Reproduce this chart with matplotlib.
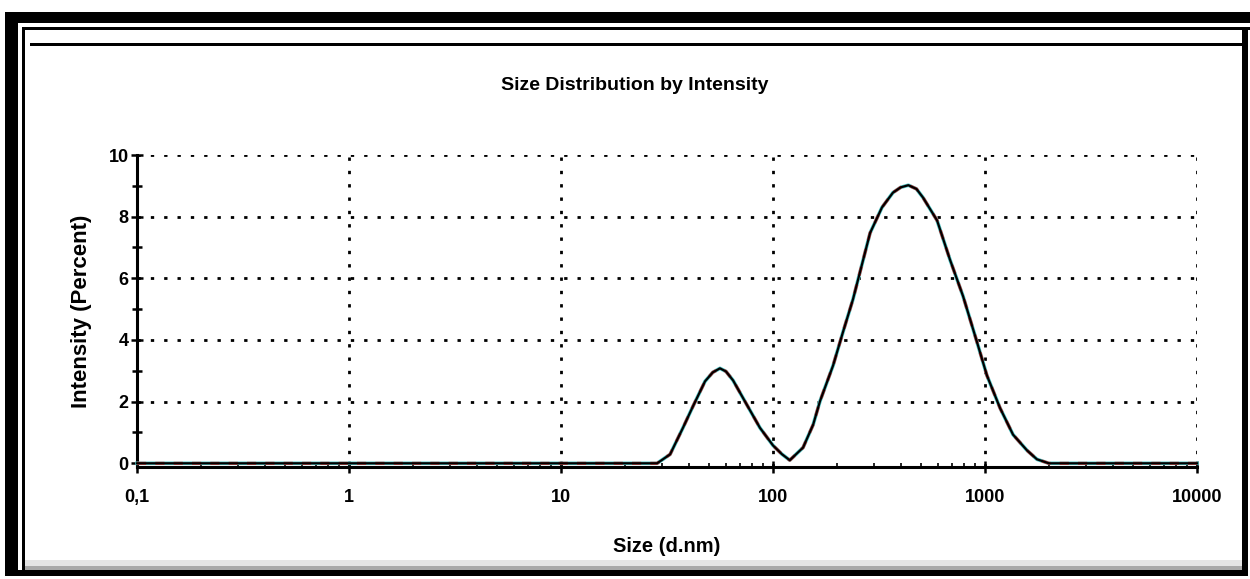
import matplotlib
matplotlib.use("Agg")
import matplotlib.pyplot as plt
from matplotlib.patches import Rectangle
from matplotlib.ticker import FixedLocator, FixedFormatter, LogLocator, NullFormatter
import numpy as np

plt.rcParams['font.family'] = ['Liberation Sans Narrow', 'Liberation Sans', 'DejaVu Sans']

# ---- data ----
size_nm = [0.1, 0.4, 1.0, 10.0, 28.4, 32.7, 37.6, 42.0, 47.8, 52.0, 56.2, 60.0, 64.8,
           75.4, 86.8, 100.0, 110.0, 120.0, 138.6, 154.6, 166.7, 192.0, 213.9, 238.4,
           257.0, 287.0, 326.6, 368.0, 400.0, 435.0, 475.0, 510.0, 594.0, 684.0,
           788.0, 916.0, 1021.0, 1178.0, 1356.0, 1578.0, 1758.0, 2000.0, 5000.0, 10000.0]
intensity = [0.0, 0.0, 0.0, 0.0, 0.0, 0.29, 1.15, 1.86, 2.66, 2.95, 3.08, 2.98, 2.69,
             1.89, 1.15, 0.58, 0.30, 0.10, 0.51, 1.25, 2.02, 3.17, 4.26, 5.32,
             6.19, 7.47, 8.30, 8.78, 8.95, 9.02, 8.90, 8.62, 7.88, 6.60,
             5.42, 3.94, 2.85, 1.79, 0.93, 0.42, 0.13, 0.0, 0.0, 0.0]

x_tick_vals = [0.1, 1, 10, 100, 1000, 10000]
x_tick_labels = ["0,1", "1", "10", "100", "1000", "10000"]
y_tick_vals = [0, 2, 4, 6, 8, 10]
y_tick_labels = ["0", "2", "4", "6", "8", "10"]

title = "Size Distribution by Intensity"
xlabel = "Size (d.nm)"
ylabel = "Intensity (Percent)"

W, H = 1250, 579
fig = plt.figure(figsize=(W / 100, H / 100), dpi=100)
fig.patch.set_facecolor("white")


def px_rect(x0, y0, x1, y1, color="black", z=5):
    fig.add_artist(Rectangle((x0 / W, 1 - y1 / H), (x1 - x0) / W, (y1 - y0) / H,
                             transform=fig.transFigure, facecolor=color,
                             edgecolor="none", zorder=z))


# frame decorations
px_rect(5, 12, 1250, 23)        # top thick bar
px_rect(5, 12, 18, 576)         # left thick bar
px_rect(22, 27, 25, 576)        # left thin line
px_rect(22, 27, 1250, 30)       # top thin line
px_rect(30, 43, 1245, 45.5)     # inner header line
px_rect(1242, 27, 1248, 576)    # right bar
px_rect(25, 560, 1242, 566, color="#e4e4e4")
px_rect(25, 566, 1242, 570, color="#a8a8a8")
px_rect(5, 570, 1248, 576)      # bottom bar

# axes
left, right = 137, 1197
top, bottom = 155, 467
ax = fig.add_axes([left / W, 1 - bottom / H, (right - left) / W, (bottom - top) / H])
ax.set_xscale("log")
ax.set_xlim(0.1, 10000)
ax.set_ylim(-0.12, 10)

ax.plot(size_nm, intensity, color="#4fc3c3", lw=2.6, zorder=3, clip_on=False)
ax.plot(size_nm, intensity, color="#e03a3a", lw=2.2, ls=(0, (3, 3)), zorder=4, clip_on=False)
ax.plot(size_nm, intensity, color="black", lw=1.6, zorder=5, clip_on=False)

for s in ["top", "right"]:
    ax.spines[s].set_visible(False)
for s in ["left", "bottom"]:
    ax.spines[s].set_linewidth(2.2)
    ax.spines[s].set_color("black")

ax.xaxis.set_major_locator(FixedLocator(x_tick_vals))
ax.xaxis.set_major_formatter(FixedFormatter(x_tick_labels))
ax.xaxis.set_minor_locator(LogLocator(base=10, subs=np.arange(2, 10)))
ax.xaxis.set_minor_formatter(NullFormatter())
ax.yaxis.set_major_locator(FixedLocator(y_tick_vals))
ax.yaxis.set_major_formatter(FixedFormatter(y_tick_labels))
ax.yaxis.set_minor_locator(FixedLocator([1, 3, 5, 7, 9]))

ax.tick_params(axis="both", which="major", direction="inout", length=8, width=1.8,
               labelsize=13, colors="black")
ax.tick_params(axis="x", which="major", pad=12)
ax.tick_params(axis="y", which="major", pad=2)
ax.tick_params(axis="x", which="minor", direction="in", length=3, width=1.2)
ax.tick_params(axis="y", which="minor", direction="inout", length=7, width=1.8)
for lab in ax.get_xticklabels() + ax.get_yticklabels():
    lab.set_fontweight("bold")

# dotted grid
for yv in y_tick_vals[1:]:
    ax.axhline(yv, color="black", lw=2.0, ls=(0, (1.2, 3.6)), zorder=1)
for xv in x_tick_vals[1:]:
    ax.axvline(xv, color="black", lw=2.0, ls=(0, (1.2, 3.6)), zorder=1)

fig.text(635 / W, 1 - 86 / H, title, ha="center", va="center", fontsize=14,
         fontweight="bold")
ax.set_xlabel(xlabel, fontsize=14.5, fontweight="bold", labelpad=22)
ax.set_ylabel(ylabel, fontsize=16, fontweight="bold", labelpad=12)

fig.savefig("out.png", dpi=100, facecolor="white")
